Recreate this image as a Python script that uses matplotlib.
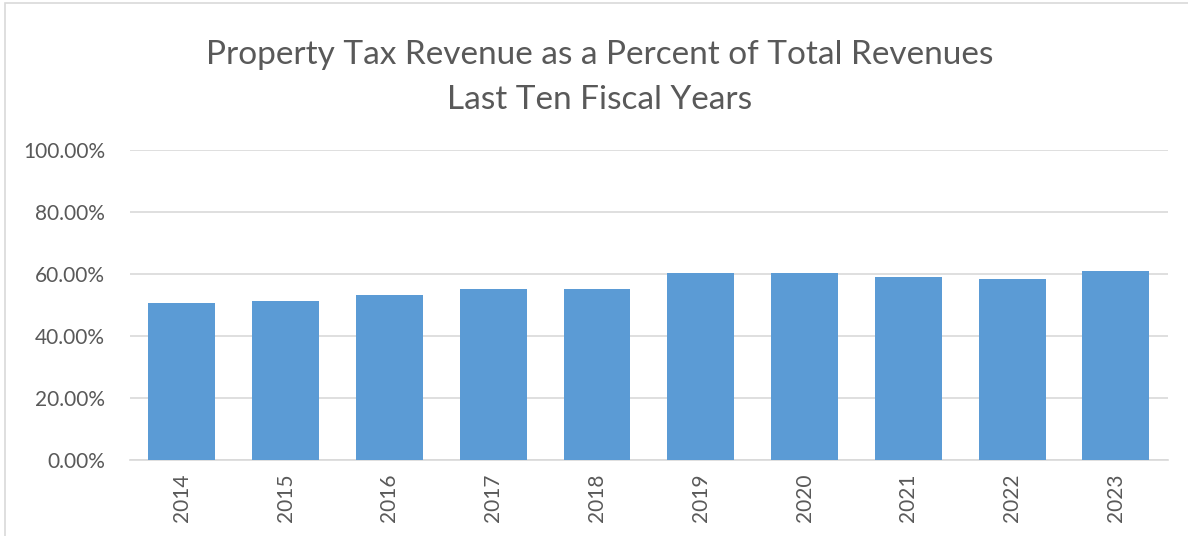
import matplotlib.pyplot as plt
from matplotlib.ticker import PercentFormatter
from matplotlib.patches import Rectangle

# data
years = ["2014", "2015", "2016", "2017", "2018", "2019", "2020", "2021", "2022", "2023"]
pct = [50.6, 51.3, 53.2, 55.2, 55.2, 60.3, 60.3, 59.0, 58.4, 61.0]
yticks = [0, 20, 40, 60, 80, 100]

plt.rcParams['font.family'] = ['Lato', 'DejaVu Sans']

fig = plt.figure(figsize=(11.88, 5.36), dpi=100)
ax = fig.add_axes([0.1094, 0.1418, 0.8736, 0.5784])

x = range(len(years))
ax.bar(x, pct, width=0.645, color="#5b9bd5", zorder=3)

ax.set_xlim(-0.5, len(years) - 0.5)
ax.set_ylim(0, 100)
ax.set_yticks(yticks)
ax.yaxis.set_major_formatter(PercentFormatter(decimals=2))
ax.set_xticks(list(x))
ax.set_xticklabels(years, rotation=90)
ax.tick_params(axis='both', length=0, colors="#595959", labelsize=15)
ax.tick_params(axis='y', pad=18)
ax.tick_params(axis='x', pad=10)

ax.grid(axis='y', color="#d9d9d9", linewidth=1.2, zorder=0)
for s in ["top", "right", "left"]:
    ax.spines[s].set_visible(False)
ax.spines["bottom"].set_color("#d9d9d9")
ax.spines["bottom"].set_linewidth(1.2)

fig.text(0.505, 0.898, "Property Tax Revenue as a Percent of Total Revenues",
         ha='center', va='center', fontsize=24, color="#595959")
fig.text(0.505, 0.814, "Last Ten Fiscal Years",
         ha='center', va='center', fontsize=24, color="#595959")

# outer chart border
fig.patches.append(Rectangle((0.004, -0.01), 1.2, 1.005, transform=fig.transFigure,
                             fill=False, edgecolor="#d9d9d9", linewidth=1.2))

fig.savefig("out.png", dpi=100)
